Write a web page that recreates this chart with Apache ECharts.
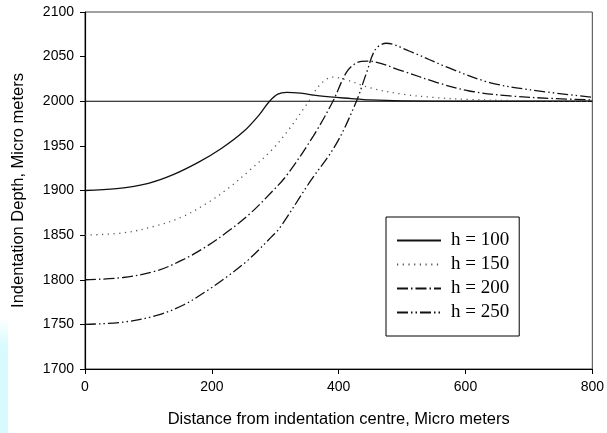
<!DOCTYPE html>
<html>
<head>
<meta charset="utf-8">
<script src="https://cdn.jsdelivr.net/npm/echarts@6/dist/echarts.min.js"></script>
<style>html,body{margin:0;padding:0;background:#fff;}#c{width:607px;height:433px;}</style>
</head>
<body>
<div id="c"></div>
<script>
var seriesNames = ['h = 100', 'h = 150', 'h = 200', 'h = 250'];
var xTicks = [0, 200, 400, 600, 800];
var yTicks = [1700, 1750, 1800, 1850, 1900, 1950, 2000, 2050, 2100];
var refLevel = 2000;

var x100 = [0, 50, 100, 140, 180, 215, 250, 275, 291, 304, 318, 340, 370, 420, 450, 500, 600, 800];
var y100 = [1900, 1902, 1908, 1918, 1932, 1947, 1966, 1985, 2000, 2008, 2010, 2009, 2006, 2003, 2001.5, 2000.5, 2000, 2000];

var x150 = [0, 60, 110, 155, 195, 225, 257, 294, 320, 350, 370, 390, 412, 450, 500, 555, 605, 700, 800];
var y150 = [1850, 1852.5, 1860, 1871, 1887, 1902, 1921, 1945, 1967, 1997, 2018, 2027, 2024, 2015, 2008, 2004, 2002, 2000.5, 2000];

var x200 = [0, 60, 113, 156, 193, 225, 257, 294, 318, 360, 391, 412, 428, 445, 500, 555, 606, 670, 740, 800];
var y200 = [1800, 1802.5, 1810, 1823, 1838, 1854, 1872, 1898, 1917, 1961, 2000, 2032, 2043, 2045, 2034, 2021, 2011.5, 2006, 2003, 2001.5];

var x250 = [0, 60, 113, 156, 193, 225, 257, 294, 307, 354, 396, 428, 444, 458, 475, 512, 575, 638, 700, 800];
var y250 = [1750, 1752.5, 1760, 1772, 1788, 1804, 1822, 1848, 1858, 1909, 1952, 2000, 2032, 2058, 2065, 2056, 2037, 2021, 2013, 2004.5];

function pairs(xs, ys) { return xs.map(function (x, i) { return [x, ys[i]]; }); }

var styles = [
  { color: '#111', width: 1.3, type: 'solid' },
  { color: '#555', width: 1.3, type: [1.2, 4.5] },
  { color: '#111', width: 1.3, type: [11, 3, 1.5, 3] },
  { color: '#111', width: 1.3, type: [11, 3, 1.5, 3, 1.5, 3] }
];
var datas = [pairs(x100, y100), pairs(x150, y150), pairs(x200, y200), pairs(x250, y250)];

var series = seriesNames.map(function (n, i) {
  return {
    name: n, type: 'line', data: datas[i], smooth: 0.35, symbol: 'none',
    lineStyle: styles[i], itemStyle: { color: styles[i].color }, z: 3
  };
});
series.push({
  name: 'ref', type: 'line', data: [[xTicks[0], refLevel], [xTicks[xTicks.length - 1], refLevel]],
  symbol: 'none', lineStyle: { color: '#000', width: 1.2 }, z: 2, silent: true
});

function plain(v) { return String(v); }

var chart = echarts.init(document.getElementById('c'), null, { renderer: 'canvas' });
chart.setOption({
  animation: false,
  backgroundColor: '#fff',
  graphic: [{
    type: 'rect', left: 0, top: 318, shape: { width: 8, height: 115 }, z: -10,
    style: { fill: new echarts.graphic.LinearGradient(0, 0, 0, 1, [
      { offset: 0, color: 'rgba(215,250,252,0)' },
      { offset: 0.25, color: 'rgba(215,250,252,1)' },
      { offset: 1, color: 'rgba(215,250,252,1)' }]) }
  }],
  grid: { left: 85, right: 13, top: 12, bottom: 61, show: true, borderColor: '#444', borderWidth: 1, containLabel: false },
  legend: {
    data: seriesNames, orient: 'vertical', left: 386, top: 217,
    itemWidth: 44, itemHeight: 14, itemGap: 5,
    padding: [14, 10, 14, 10],
    itemStyle: { opacity: 0 },
    borderColor: '#000', borderWidth: 1, backgroundColor: '#fff',
    textStyle: { fontFamily: 'Liberation Serif', fontSize: 19, color: '#000', lineHeight: 19, padding: [0, 0, 0, 5] }
  },
  xAxis: {
    type: 'value', min: xTicks[0], max: xTicks[xTicks.length - 1], interval: 200,
    name: 'Distance from indentation centre, Micro meters', nameLocation: 'middle', nameGap: 42,
    nameTextStyle: { fontFamily: 'Liberation Sans', fontSize: 16.5, color: '#000' },
    axisLine: { lineStyle: { color: '#000', width: 1.2 } },
    axisTick: { show: true, length: 5, inside: false, lineStyle: { color: '#000' } },
    axisLabel: { fontFamily: 'Liberation Sans', fontSize: 14, color: '#000', margin: 11, formatter: plain },
    splitLine: { show: false }
  },
  yAxis: {
    type: 'value', min: yTicks[0], max: yTicks[yTicks.length - 1], interval: 50,
    name: 'Indentation Depth, Micro meters', nameLocation: 'middle', nameGap: 58,
    nameTextStyle: { fontFamily: 'Liberation Sans', fontSize: 16.5, color: '#000' },
    axisLine: { show: true, lineStyle: { color: '#000', width: 1.2 } },
    axisTick: { show: true, length: 5, inside: false, lineStyle: { color: '#000' } },
    axisLabel: { fontFamily: 'Liberation Sans', fontSize: 14, color: '#000', margin: 11, formatter: plain },
    splitLine: { show: false }
  },
  series: series
});
</script>
</body>
</html>
